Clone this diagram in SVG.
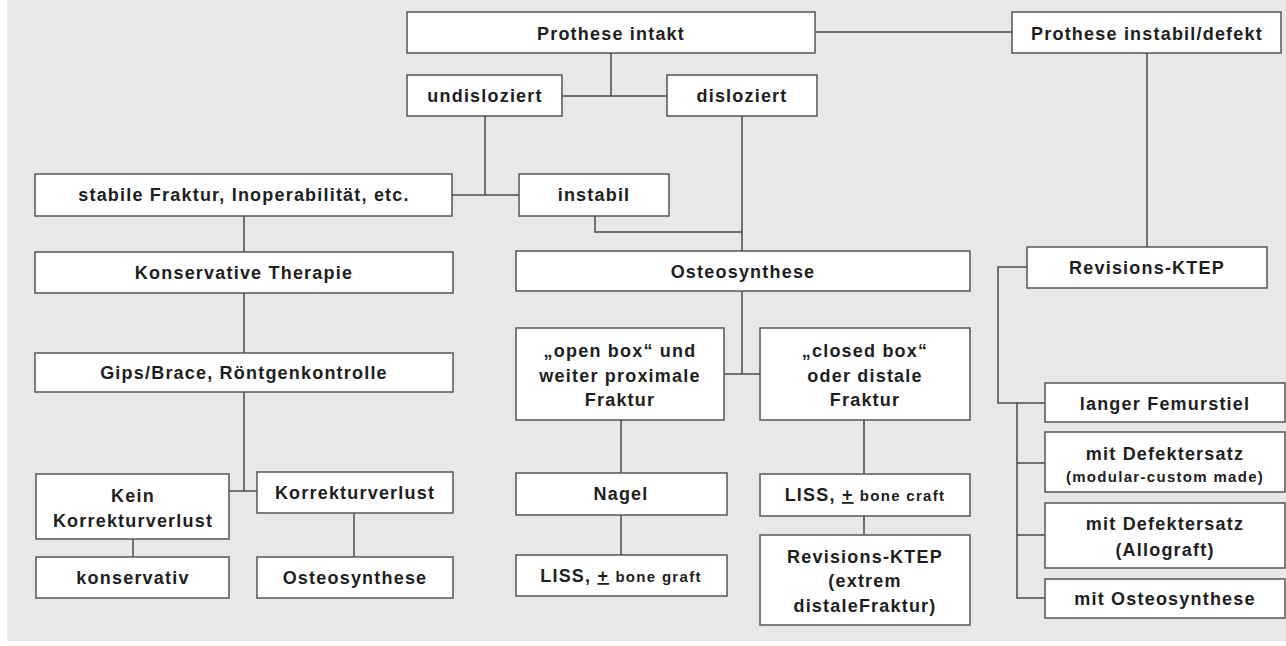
<svg xmlns="http://www.w3.org/2000/svg" width="1286" height="646" viewBox="0 0 1286 646">
<style>
.bg{fill:#e8e8e8}
.box{fill:#ffffff;stroke:#555555;stroke-width:1.5}
.ln{fill:none;stroke:#4a4a4a;stroke-width:1.5}
text{font-family:"Liberation Sans",Arial,sans-serif;font-weight:bold;font-size:18px;fill:#1e1e1e;text-anchor:middle;letter-spacing:1.2px}
.sm{font-size:15px;letter-spacing:1.3px}
</style>
<rect x="0" y="0" width="1286" height="646" fill="#ffffff"/>
<rect class="bg" x="7" y="0" width="1279" height="641"/>
<g id="connectors">
<path class="ln" d="M815 32H1012"/>
<path class="ln" d="M611 53V96M562 96H667"/>
<path class="ln" d="M485 116V195M452 195H519"/>
<path class="ln" d="M742 116V251M595 216V232H742"/>
<path class="ln" d="M244 216V252M244 293V353M244 392V491M229 491H257"/>
<path class="ln" d="M133 539V557M354 513V557"/>
<path class="ln" d="M742 291V374M724 374H760"/>
<path class="ln" d="M621 420V473M621 515V555"/>
<path class="ln" d="M864 420V474M864 516V535"/>
<path class="ln" d="M1147 53V247"/>
<path class="ln" d="M1027 267H998V403H1045M1017 403V598H1045M1017 463H1045M1017 535H1045"/>
</g>
<g id="n_prothese_intakt"><rect class="box" x="407" y="12" width="408" height="41"/><text x="611" y="40">Prothese intakt</text></g>
<g id="n_prothese_instabil"><rect class="box" x="1012" y="12" width="269" height="41"/><text x="1147" y="40">Prothese instabil/defekt</text></g>
<g id="n_undisloziert"><rect class="box" x="407" y="75" width="155" height="41"/><text x="485" y="102">undisloziert</text></g>
<g id="n_disloziert"><rect class="box" x="667" y="75" width="150" height="41"/><text x="742" y="102">disloziert</text></g>
<g id="n_stabile"><rect class="box" x="35" y="174" width="417" height="42"/><text x="244" y="201">stabile Fraktur, Inoperabilität, etc.</text></g>
<g id="n_instabil"><rect class="box" x="519" y="174" width="150" height="42"/><text x="594" y="201">instabil</text></g>
<g id="n_konservative"><rect class="box" x="35" y="252" width="418" height="41"/><text x="244" y="279">Konservative Therapie</text></g>
<g id="n_gips"><rect class="box" x="35" y="353" width="418" height="39"/><text x="244" y="379">Gips/Brace, Röntgenkontrolle</text></g>
<g id="n_kein"><rect class="box" x="36" y="474" width="193" height="65"/><text x="133" y="502">Kein</text><text x="133" y="527">Korrekturverlust</text></g>
<g id="n_korrekturverlust"><rect class="box" x="257" y="472" width="196" height="41"/><text x="355" y="499">Korrekturverlust</text></g>
<g id="n_konservativ"><rect class="box" x="36" y="557" width="193" height="41"/><text x="133" y="584">konservativ</text></g>
<g id="n_osteo_small"><rect class="box" x="257" y="557" width="196" height="41"/><text x="355" y="584">Osteosynthese</text></g>
<g id="n_osteosynthese"><rect class="box" x="516" y="251" width="454" height="40"/><text x="743" y="278">Osteosynthese</text></g>
<g id="n_open_box"><rect class="box" x="516" y="328" width="208" height="92"/><text x="620" y="357">„open box“ und</text><text x="620" y="382">weiter proximale</text><text x="620" y="406">Fraktur</text></g>
<g id="n_closed_box"><rect class="box" x="760" y="328" width="210" height="92"/><text x="865" y="357">„closed box“</text><text x="865" y="382">oder distale</text><text x="865" y="406">Fraktur</text></g>
<g id="n_nagel"><rect class="box" x="516" y="473" width="211" height="42"/><text x="621" y="500">Nagel</text></g>
<g id="n_liss_graft"><rect class="box" x="516" y="555" width="211" height="41"/><text x="621" y="582">LISS, <tspan text-decoration="underline">+</tspan> <tspan class="sm">bone graft</tspan></text></g>
<g id="n_liss_craft"><rect class="box" x="760" y="474" width="210" height="42"/><text x="865" y="501">LISS, <tspan text-decoration="underline">+</tspan> <tspan class="sm">bone craft</tspan></text></g>
<g id="n_revision_mid"><rect class="box" x="760" y="535" width="210" height="90"/><text x="865" y="563">Revisions-KTEP</text><text x="865" y="587">(extrem</text><text x="865" y="612">distaleFraktur)</text></g>
<g id="n_revision_right"><rect class="box" x="1027" y="247" width="240" height="41"/><text x="1147" y="274">Revisions-KTEP</text></g>
<g id="n_langer"><rect class="box" x="1045" y="383" width="240" height="39"/><text x="1165" y="410">langer Femurstiel</text></g>
<g id="n_defekt_modular"><rect class="box" x="1045" y="432" width="240" height="60"/><text x="1165" y="460">mit Defektersatz</text><text class="sm" x="1165" y="482">(modular-custom made)</text></g>
<g id="n_defekt_allograft"><rect class="box" x="1045" y="503" width="240" height="65"/><text x="1165" y="530">mit Defektersatz</text><text x="1165" y="556">(Allograft)</text></g>
<g id="n_mit_osteo"><rect class="box" x="1045" y="579" width="240" height="39"/><text x="1165" y="605">mit Osteosynthese</text></g>
</svg>
